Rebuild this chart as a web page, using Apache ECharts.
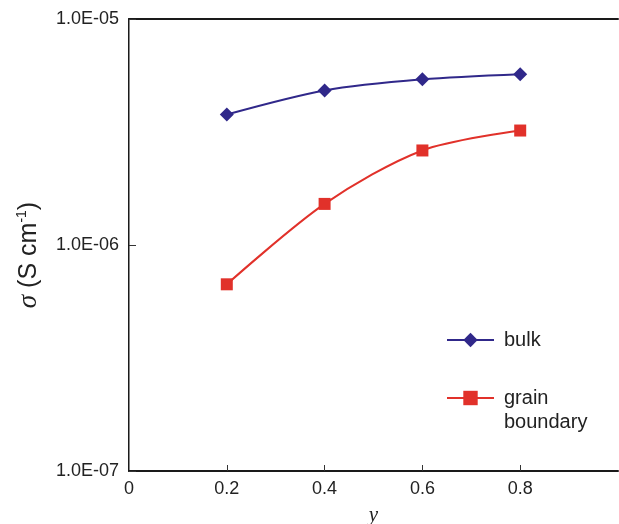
<!DOCTYPE html>
<html>
<head>
<meta charset="utf-8">
<script src="https://cdn.jsdelivr.net/npm/echarts@6/dist/echarts.min.js"></script>
<style>
  html, body { margin: 0; padding: 0; background: #fff; }
  #chart { width: 619px; height: 524px; }
</style>
</head>
<body>
<div id="chart"></div>
<script>
const yFraction = [0.2, 0.4, 0.6, 0.8];
const bulk = [3.78e-6, 4.83e-6, 5.41e-6, 5.70e-6];
const grainBoundary = [6.7e-7, 1.52e-6, 2.62e-6, 3.21e-6];
const xLabels = [0, 0.2, 0.4, 0.6, 0.8];
const xTickValues = [0.2, 0.4, 0.6, 0.8];

const chart = echarts.init(document.getElementById('chart'));

const sciLabel = (v) => {
    const e = Math.round(Math.log10(v));
    const m = v / Math.pow(10, e);
    const sign = e < 0 ? '-' : '+';
    return m.toFixed(1) + 'E' + sign + String(Math.abs(e)).padStart(2, '0');
};

const font = 'Liberation Sans, Arial, sans-serif';

chart.setOption({
    animation: false,
    textStyle: { fontFamily: font },
    grid: { left: 129, top: 19, right: 1, bottom: 53, outerBoundsMode: 'none', containLabel: false },
    xAxis: [
        {
            type: 'value',
            min: 0,
            max: 1,
            interval: 0.2,
            name: 'y',
            nameLocation: 'middle',
            nameGap: 34,
            nameTextStyle: { fontFamily: 'Liberation Serif, Times New Roman, serif', fontStyle: 'italic', fontSize: 21, color: '#222' },
            axisLine: { lineStyle: { color: '#1a1a1a', width: 2 } },
            axisTick: { inside: true, length: 6, customValues: xTickValues, lineStyle: { color: '#333' } },
            splitLine: { show: false },
            axisLabel: {
                margin: 9,
                fontSize: 18,
                color: '#222',
                customValues: xLabels,
                formatter: (v) => String(+v.toFixed(1))
            }
        },
        {
            type: 'value',
            position: 'top',
            min: 0,
            max: 1,
            axisLine: { show: true, lineStyle: { color: '#1a1a1a', width: 2 } },
            axisTick: { show: false },
            axisLabel: { show: false },
            splitLine: { show: false }
        }
    ],
    yAxis: [
        {
            type: 'log',
            logBase: 10,
            min: 1e-7,
            max: 1e-5,
            axisLine: { show: true, lineStyle: { color: '#1a1a1a', width: 2 } },
            axisTick: { show: true, inside: true, length: 7, lineStyle: { color: '#333' } },
            splitLine: { show: false },
            minorTick: { show: false },
            axisLabel: { margin: 10, fontSize: 18, color: '#222', formatter: sciLabel }
        },
        {
            type: 'log',
            position: 'right',
            min: 1e-7,
            max: 1e-5,
            axisLine: { show: true, lineStyle: { color: '#888', width: 1 } },
            axisTick: { show: false },
            axisLabel: { show: false },
            splitLine: { show: false }
        }
    ],
    legend: [
        {
            left: 441,
            top: 325,
            orient: 'vertical',
            itemWidth: 47,
            itemHeight: 18,
            textStyle: { fontSize: 20, color: '#222', padding: [0, 0, 0, 5] },
            data: ['bulk']
        },
        {
            left: 441,
            top: 357,
            orient: 'vertical',
            itemWidth: 47,
            itemHeight: 18,
            formatter: (n) => ' \n' + n.replace(' ', '\n'),
            textStyle: { fontSize: 20, color: '#222', lineHeight: 24, padding: [0, 0, 0, 5] },
            data: ['grain boundary']
        }
    ],
    graphic: [
        {
            type: 'text',
            x: 29,
            y: 255,
            rotation: Math.PI / 2,
            style: {
                text: '{s|σ} (S cm{sup|-1})',
                rich: {
                    s: { fontFamily: 'Liberation Serif, serif', fontStyle: 'italic', fontSize: 27, fill: '#222' },
                    sup: { fontSize: 14, fill: '#222', verticalAlign: 'top', padding: [0, 0, 12, 0] }
                },
                fontSize: 25,
                fontFamily: font,
                fill: '#222',
                align: 'center',
                verticalAlign: 'middle'
            }
        }
    ],
    series: [
        {
            name: 'bulk',
            type: 'line',
            smooth: 0.3,
            symbol: 'diamond',
            symbolSize: 14,
            color: '#30288a',
            lineStyle: { width: 2, color: '#30288a' },
            itemStyle: { color: '#30288a' },
            data: yFraction.map((x, i) => [x, bulk[i]])
        },
        {
            name: 'grain boundary',
            type: 'line',
            smooth: 0.3,
            symbol: 'rect',
            symbolSize: 12,
            color: '#e1312a',
            lineStyle: { width: 2, color: '#e1312a' },
            itemStyle: { color: '#e1312a' },
            data: yFraction.map((x, i) => [x, grainBoundary[i]])
        }
    ]
});
</script>
</body>
</html>
